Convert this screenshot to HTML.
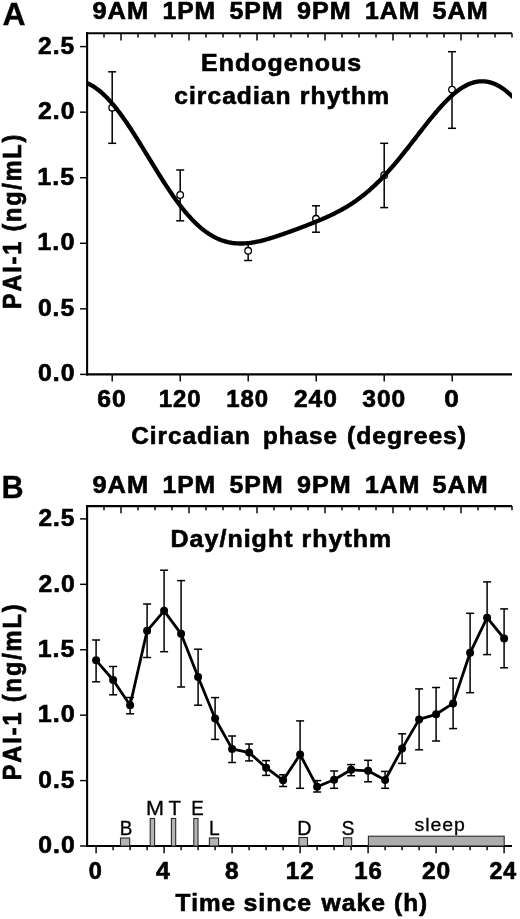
<!DOCTYPE html>
<html><head><meta charset="utf-8"><title>PAI-1 rhythm</title>
<style>
html,body{margin:0;padding:0;background:#fff;}
body{width:520px;height:919px;overflow:hidden;}
svg{display:block;font-family:"Liberation Sans",Arial,Helvetica,sans-serif;fill:#000;font-kerning:none;}
</style></head><body>
<svg width="520" height="919" viewBox="0 0 520 919">
<rect width="520" height="919" fill="#fff"/>
<line x1="86.05" y1="33.25" x2="512.00" y2="33.25" stroke="#000" stroke-width="2.1"/>
<line x1="87.10" y1="32.20" x2="87.10" y2="375.45" stroke="#000" stroke-width="2.1"/>
<line x1="86.05" y1="374.40" x2="512.00" y2="374.40" stroke="#000" stroke-width="2.1"/>
<line x1="87.00" y1="33.25" x2="87.00" y2="37.45" stroke="#000" stroke-width="1.45"/>
<line x1="104.00" y1="33.25" x2="104.00" y2="37.45" stroke="#000" stroke-width="1.45"/>
<line x1="121.00" y1="33.25" x2="121.00" y2="40.45" stroke="#000" stroke-width="1.45"/>
<line x1="138.00" y1="33.25" x2="138.00" y2="37.45" stroke="#000" stroke-width="1.45"/>
<line x1="155.00" y1="33.25" x2="155.00" y2="37.45" stroke="#000" stroke-width="1.45"/>
<line x1="172.00" y1="33.25" x2="172.00" y2="37.45" stroke="#000" stroke-width="1.45"/>
<line x1="189.00" y1="33.25" x2="189.00" y2="40.45" stroke="#000" stroke-width="1.45"/>
<line x1="206.00" y1="33.25" x2="206.00" y2="37.45" stroke="#000" stroke-width="1.45"/>
<line x1="223.00" y1="33.25" x2="223.00" y2="37.45" stroke="#000" stroke-width="1.45"/>
<line x1="240.00" y1="33.25" x2="240.00" y2="37.45" stroke="#000" stroke-width="1.45"/>
<line x1="257.00" y1="33.25" x2="257.00" y2="40.45" stroke="#000" stroke-width="1.45"/>
<line x1="274.00" y1="33.25" x2="274.00" y2="37.45" stroke="#000" stroke-width="1.45"/>
<line x1="291.00" y1="33.25" x2="291.00" y2="37.45" stroke="#000" stroke-width="1.45"/>
<line x1="308.00" y1="33.25" x2="308.00" y2="37.45" stroke="#000" stroke-width="1.45"/>
<line x1="325.00" y1="33.25" x2="325.00" y2="40.45" stroke="#000" stroke-width="1.45"/>
<line x1="342.00" y1="33.25" x2="342.00" y2="37.45" stroke="#000" stroke-width="1.45"/>
<line x1="359.00" y1="33.25" x2="359.00" y2="37.45" stroke="#000" stroke-width="1.45"/>
<line x1="376.00" y1="33.25" x2="376.00" y2="37.45" stroke="#000" stroke-width="1.45"/>
<line x1="393.00" y1="33.25" x2="393.00" y2="40.45" stroke="#000" stroke-width="1.45"/>
<line x1="410.00" y1="33.25" x2="410.00" y2="37.45" stroke="#000" stroke-width="1.45"/>
<line x1="427.00" y1="33.25" x2="427.00" y2="37.45" stroke="#000" stroke-width="1.45"/>
<line x1="444.00" y1="33.25" x2="444.00" y2="37.45" stroke="#000" stroke-width="1.45"/>
<line x1="461.00" y1="33.25" x2="461.00" y2="40.45" stroke="#000" stroke-width="1.45"/>
<line x1="478.00" y1="33.25" x2="478.00" y2="37.45" stroke="#000" stroke-width="1.45"/>
<line x1="495.00" y1="33.25" x2="495.00" y2="37.45" stroke="#000" stroke-width="1.45"/>
<line x1="512.00" y1="33.25" x2="512.00" y2="37.45" stroke="#000" stroke-width="1.45"/>
<line x1="80.10" y1="374.40" x2="87.10" y2="374.40" stroke="#000" stroke-width="1.45"/>
<line x1="80.10" y1="308.84" x2="87.10" y2="308.84" stroke="#000" stroke-width="1.45"/>
<line x1="80.10" y1="243.28" x2="87.10" y2="243.28" stroke="#000" stroke-width="1.45"/>
<line x1="80.10" y1="177.72" x2="87.10" y2="177.72" stroke="#000" stroke-width="1.45"/>
<line x1="80.10" y1="112.16" x2="87.10" y2="112.16" stroke="#000" stroke-width="1.45"/>
<line x1="80.10" y1="46.60" x2="87.10" y2="46.60" stroke="#000" stroke-width="1.45"/>
<text transform="translate(92.38,19.20) scale(1.0460,1)" font-size="24.3" font-weight="bold" letter-spacing="1.0" stroke="#000" stroke-width="0.65">9AM</text>
<text transform="translate(162.44,19.20) scale(1.0136,1)" font-size="24.3" font-weight="bold" letter-spacing="1.0" stroke="#000" stroke-width="0.65">1PM</text>
<text transform="translate(229.50,19.20) scale(1.0223,1)" font-size="24.3" font-weight="bold" letter-spacing="1.0" stroke="#000" stroke-width="0.65">5PM</text>
<text transform="translate(296.89,19.20) scale(1.0344,1)" font-size="24.3" font-weight="bold" letter-spacing="1.0" stroke="#000" stroke-width="0.65">9PM</text>
<text transform="translate(364.93,19.20) scale(1.0219,1)" font-size="24.3" font-weight="bold" letter-spacing="1.0" stroke="#000" stroke-width="0.65">1AM</text>
<text transform="translate(432.49,19.20) scale(1.0351,1)" font-size="24.3" font-weight="bold" letter-spacing="1.0" stroke="#000" stroke-width="0.65">5AM</text>
<text transform="translate(37.90,381.40) scale(1.0222,1)" font-size="24.3" font-weight="bold" letter-spacing="1.0" stroke="#000" stroke-width="0.65">0.0</text>
<text transform="translate(37.90,315.84) scale(1.0131,1)" font-size="24.3" font-weight="bold" letter-spacing="1.0" stroke="#000" stroke-width="0.65">0.5</text>
<text transform="translate(37.25,250.28) scale(1.0408,1)" font-size="24.3" font-weight="bold" letter-spacing="1.0" stroke="#000" stroke-width="0.65">1.0</text>
<text transform="translate(37.26,184.72) scale(1.0314,1)" font-size="24.3" font-weight="bold" letter-spacing="1.0" stroke="#000" stroke-width="0.65">1.5</text>
<text transform="translate(38.00,119.16) scale(1.0191,1)" font-size="24.3" font-weight="bold" letter-spacing="1.0" stroke="#000" stroke-width="0.65">2.0</text>
<text transform="translate(38.01,53.60) scale(1.0101,1)" font-size="24.3" font-weight="bold" letter-spacing="1.0" stroke="#000" stroke-width="0.65">2.5</text>
<line x1="112.20" y1="374.40" x2="112.20" y2="381.60" stroke="#000" stroke-width="1.45"/>
<text transform="translate(97.30,407.00) scale(1.0167,1)" font-size="24.3" font-weight="bold" letter-spacing="1.0" stroke="#000" stroke-width="0.65">60</text>
<line x1="180.20" y1="374.40" x2="180.20" y2="381.60" stroke="#000" stroke-width="1.45"/>
<text transform="translate(158.73,407.00) scale(0.9869,1)" font-size="24.3" font-weight="bold" letter-spacing="1.0" stroke="#000" stroke-width="0.65">120</text>
<line x1="248.20" y1="374.40" x2="248.20" y2="381.60" stroke="#000" stroke-width="1.45"/>
<text transform="translate(226.23,407.00) scale(0.9869,1)" font-size="24.3" font-weight="bold" letter-spacing="1.0" stroke="#000" stroke-width="0.65">180</text>
<line x1="316.20" y1="374.40" x2="316.20" y2="381.60" stroke="#000" stroke-width="1.45"/>
<text transform="translate(293.91,407.00) scale(1.0127,1)" font-size="24.3" font-weight="bold" letter-spacing="1.0" stroke="#000" stroke-width="0.65">240</text>
<line x1="384.20" y1="374.40" x2="384.20" y2="381.60" stroke="#000" stroke-width="1.45"/>
<text transform="translate(362.22,407.00) scale(1.0113,1)" font-size="24.3" font-weight="bold" letter-spacing="1.0" stroke="#000" stroke-width="0.65">300</text>
<line x1="452.20" y1="374.40" x2="452.20" y2="381.60" stroke="#000" stroke-width="1.45"/>
<text transform="translate(444.25,407.00) scale(1.0774,1)" font-size="24.3" font-weight="bold" letter-spacing="1.0" stroke="#000" stroke-width="0.65">0</text>
<text transform="translate(131.21,444.00) scale(1.0005,1)" font-size="24.3" font-weight="bold" letter-spacing="1.0" stroke="#000" stroke-width="0.65">Circadian</text>
<text transform="translate(263.12,444.00) scale(0.9938,1)" font-size="24.3" font-weight="bold" letter-spacing="1.0" stroke="#000" stroke-width="0.65">phase</text>
<text transform="translate(347.00,444.00) scale(1.0141,1)" font-size="24.3" font-weight="bold" letter-spacing="1.0" stroke="#000" stroke-width="0.65">(degrees)</text>
<text transform="translate(21.10,308.93) rotate(-90) scale(0.9642,1.08)" font-size="24.3" font-weight="bold" letter-spacing="1.9" stroke="#000" stroke-width="0.65">PAI-1 (ng/mL)</text>
<text transform="translate(201.07,70.70) scale(1.0258,1)" font-size="24.3" font-weight="bold" letter-spacing="1.0" stroke="#000" stroke-width="0.65">Endogenous</text>
<text transform="translate(174.30,103.70) scale(1.0134,1)" font-size="24.3" font-weight="bold" letter-spacing="1.0" stroke="#000" stroke-width="0.65">circadian</text>
<text transform="translate(299.82,103.70) scale(1.0239,1)" font-size="24.3" font-weight="bold" letter-spacing="1.0" stroke="#000" stroke-width="0.65">rhythm</text>
<text transform="translate(2.41,24.50) scale(1.0146,1)" font-size="31.5" font-weight="bold" stroke="#000" stroke-width="0.3">A</text>
<clipPath id="ca"><rect x="87.1" y="30" width="424.9" height="350"/></clipPath>
<line x1="112.20" y1="71.80" x2="112.20" y2="143.30" stroke="#000" stroke-width="1.5"/>
<line x1="108.20" y1="71.80" x2="116.20" y2="71.80" stroke="#000" stroke-width="1.5"/>
<line x1="108.20" y1="143.30" x2="116.20" y2="143.30" stroke="#000" stroke-width="1.5"/>
<circle cx="112.2" cy="107.7" r="3.3" fill="#fff" stroke="#000" stroke-width="1.3"/>
<line x1="180.20" y1="170.00" x2="180.20" y2="220.80" stroke="#000" stroke-width="1.5"/>
<line x1="176.20" y1="170.00" x2="184.20" y2="170.00" stroke="#000" stroke-width="1.5"/>
<line x1="176.20" y1="220.80" x2="184.20" y2="220.80" stroke="#000" stroke-width="1.5"/>
<circle cx="180.2" cy="195" r="3.3" fill="#fff" stroke="#000" stroke-width="1.3"/>
<line x1="248.15" y1="243.00" x2="248.15" y2="260.50" stroke="#000" stroke-width="1.5"/>
<line x1="244.15" y1="243.00" x2="252.15" y2="243.00" stroke="#000" stroke-width="1.5"/>
<line x1="244.15" y1="260.50" x2="252.15" y2="260.50" stroke="#000" stroke-width="1.5"/>
<circle cx="248.15" cy="250.8" r="3.3" fill="#fff" stroke="#000" stroke-width="1.3"/>
<line x1="316.00" y1="205.80" x2="316.00" y2="232.20" stroke="#000" stroke-width="1.5"/>
<line x1="312.00" y1="205.80" x2="320.00" y2="205.80" stroke="#000" stroke-width="1.5"/>
<line x1="312.00" y1="232.20" x2="320.00" y2="232.20" stroke="#000" stroke-width="1.5"/>
<circle cx="316" cy="218.8" r="3.3" fill="#fff" stroke="#000" stroke-width="1.3"/>
<line x1="384.20" y1="143.30" x2="384.20" y2="207.60" stroke="#000" stroke-width="1.5"/>
<line x1="380.20" y1="143.30" x2="388.20" y2="143.30" stroke="#000" stroke-width="1.5"/>
<line x1="380.20" y1="207.60" x2="388.20" y2="207.60" stroke="#000" stroke-width="1.5"/>
<circle cx="384.2" cy="175.2" r="3.3" fill="#fff" stroke="#000" stroke-width="1.3"/>
<line x1="452.00" y1="51.70" x2="452.00" y2="128.30" stroke="#000" stroke-width="1.5"/>
<line x1="448.00" y1="51.70" x2="456.00" y2="51.70" stroke="#000" stroke-width="1.5"/>
<line x1="448.00" y1="128.30" x2="456.00" y2="128.30" stroke="#000" stroke-width="1.5"/>
<circle cx="452" cy="89.6" r="3.3" fill="#fff" stroke="#000" stroke-width="1.3"/>
<path d="M86.0,82.77 L87.0,83.16 L88.0,83.59 L89.0,84.05 L90.0,84.54 L91.0,85.07 L92.0,85.63 L93.0,86.22 L94.0,86.84 L95.0,87.50 L96.0,88.19 L97.0,88.91 L98.0,89.66 L99.0,90.45 L100.0,91.26 L101.0,92.11 L102.0,92.98 L103.0,93.89 L104.0,94.82 L105.0,95.79 L106.0,96.78 L107.0,97.80 L108.0,98.85 L109.0,99.92 L110.0,101.02 L111.0,102.15 L112.0,103.31 L113.0,104.49 L114.0,105.69 L115.0,106.92 L116.0,108.17 L117.0,109.44 L118.0,110.74 L119.0,112.05 L120.0,113.39 L121.0,114.75 L122.0,116.13 L123.0,117.52 L124.0,118.94 L125.0,120.37 L126.0,121.82 L127.0,123.29 L128.0,124.77 L129.0,126.27 L130.0,127.78 L131.0,129.30 L132.0,130.84 L133.0,132.39 L134.0,133.95 L135.0,135.52 L136.0,137.10 L137.0,138.69 L138.0,140.29 L139.0,141.89 L140.0,143.50 L141.0,145.12 L142.0,146.75 L143.0,148.37 L144.0,150.00 L145.0,151.64 L146.0,153.28 L147.0,154.91 L148.0,156.55 L149.0,158.19 L150.0,159.83 L151.0,161.47 L152.0,163.10 L153.0,164.73 L154.0,166.36 L155.0,167.99 L156.0,169.60 L157.0,171.22 L158.0,172.82 L159.0,174.42 L160.0,176.01 L161.0,177.60 L162.0,179.17 L163.0,180.74 L164.0,182.29 L165.0,183.83 L166.0,185.37 L167.0,186.89 L168.0,188.39 L169.0,189.89 L170.0,191.37 L171.0,192.83 L172.0,194.28 L173.0,195.72 L174.0,197.14 L175.0,198.54 L176.0,199.92 L177.0,201.29 L178.0,202.64 L179.0,203.97 L180.0,205.29 L181.0,206.58 L182.0,207.85 L183.0,209.11 L184.0,210.34 L185.0,211.56 L186.0,212.75 L187.0,213.92 L188.0,215.07 L189.0,216.20 L190.0,217.31 L191.0,218.39 L192.0,219.45 L193.0,220.49 L194.0,221.51 L195.0,222.50 L196.0,223.47 L197.0,224.42 L198.0,225.34 L199.0,226.24 L200.0,227.11 L201.0,227.97 L202.0,228.79 L203.0,229.60 L204.0,230.38 L205.0,231.14 L206.0,231.87 L207.0,232.58 L208.0,233.26 L209.0,233.92 L210.0,234.56 L211.0,235.17 L212.0,235.76 L213.0,236.33 L214.0,236.87 L215.0,237.39 L216.0,237.89 L217.0,238.37 L218.0,238.82 L219.0,239.25 L220.0,239.65 L221.0,240.04 L222.0,240.40 L223.0,240.74 L224.0,241.06 L225.0,241.36 L226.0,241.64 L227.0,241.90 L228.0,242.14 L229.0,242.35 L230.0,242.55 L231.0,242.73 L232.0,242.89 L233.0,243.03 L234.0,243.15 L235.0,243.26 L236.0,243.34 L237.0,243.41 L238.0,243.46 L239.0,243.50 L240.0,243.52 L241.0,243.52 L242.0,243.51 L243.0,243.48 L244.0,243.44 L245.0,243.38 L246.0,243.31 L247.0,243.23 L248.0,243.13 L249.0,243.02 L250.0,242.89 L251.0,242.76 L252.0,242.61 L253.0,242.45 L254.0,242.28 L255.0,242.10 L256.0,241.91 L257.0,241.71 L258.0,241.50 L259.0,241.28 L260.0,241.06 L261.0,240.82 L262.0,240.57 L263.0,240.32 L264.0,240.06 L265.0,239.80 L266.0,239.52 L267.0,239.24 L268.0,238.95 L269.0,238.66 L270.0,238.37 L271.0,238.06 L272.0,237.75 L273.0,237.44 L274.0,237.12 L275.0,236.80 L276.0,236.48 L277.0,236.15 L278.0,235.81 L279.0,235.48 L280.0,235.14 L281.0,234.80 L282.0,234.45 L283.0,234.10 L284.0,233.75 L285.0,233.40 L286.0,233.05 L287.0,232.69 L288.0,232.33 L289.0,231.97 L290.0,231.61 L291.0,231.25 L292.0,230.89 L293.0,230.52 L294.0,230.15 L295.0,229.78 L296.0,229.41 L297.0,229.04 L298.0,228.67 L299.0,228.30 L300.0,227.92 L301.0,227.55 L302.0,227.17 L303.0,226.79 L304.0,226.41 L305.0,226.03 L306.0,225.64 L307.0,225.26 L308.0,224.87 L309.0,224.48 L310.0,224.09 L311.0,223.70 L312.0,223.30 L313.0,222.91 L314.0,222.51 L315.0,222.10 L316.0,221.70 L317.0,221.29 L318.0,220.88 L319.0,220.46 L320.0,220.04 L321.0,219.62 L322.0,219.20 L323.0,218.77 L324.0,218.33 L325.0,217.89 L326.0,217.45 L327.0,217.00 L328.0,216.54 L329.0,216.08 L330.0,215.62 L331.0,215.15 L332.0,214.67 L333.0,214.19 L334.0,213.70 L335.0,213.20 L336.0,212.69 L337.0,212.18 L338.0,211.66 L339.0,211.13 L340.0,210.60 L341.0,210.05 L342.0,209.50 L343.0,208.93 L344.0,208.36 L345.0,207.78 L346.0,207.19 L347.0,206.59 L348.0,205.98 L349.0,205.36 L350.0,204.73 L351.0,204.09 L352.0,203.44 L353.0,202.77 L354.0,202.10 L355.0,201.41 L356.0,200.71 L357.0,200.00 L358.0,199.28 L359.0,198.55 L360.0,197.80 L361.0,197.04 L362.0,196.27 L363.0,195.48 L364.0,194.69 L365.0,193.88 L366.0,193.06 L367.0,192.22 L368.0,191.37 L369.0,190.51 L370.0,189.63 L371.0,188.75 L372.0,187.85 L373.0,186.93 L374.0,186.00 L375.0,185.06 L376.0,184.11 L377.0,183.14 L378.0,182.16 L379.0,181.17 L380.0,180.16 L381.0,179.15 L382.0,178.11 L383.0,177.07 L384.0,176.02 L385.0,174.95 L386.0,173.87 L387.0,172.78 L388.0,171.67 L389.0,170.56 L390.0,169.43 L391.0,168.29 L392.0,167.15 L393.0,165.99 L394.0,164.82 L395.0,163.64 L396.0,162.46 L397.0,161.26 L398.0,160.05 L399.0,158.84 L400.0,157.62 L401.0,156.39 L402.0,155.15 L403.0,153.91 L404.0,152.65 L405.0,151.40 L406.0,150.14 L407.0,148.87 L408.0,147.60 L409.0,146.32 L410.0,145.04 L411.0,143.76 L412.0,142.47 L413.0,141.18 L414.0,139.89 L415.0,138.60 L416.0,137.31 L417.0,136.01 L418.0,134.72 L419.0,133.43 L420.0,132.14 L421.0,130.86 L422.0,129.57 L423.0,128.29 L424.0,127.01 L425.0,125.74 L426.0,124.48 L427.0,123.21 L428.0,121.96 L429.0,120.71 L430.0,119.47 L431.0,118.24 L432.0,117.02 L433.0,115.81 L434.0,114.61 L435.0,113.42 L436.0,112.24 L437.0,111.07 L438.0,109.92 L439.0,108.78 L440.0,107.65 L441.0,106.54 L442.0,105.44 L443.0,104.36 L444.0,103.30 L445.0,102.25 L446.0,101.22 L447.0,100.21 L448.0,99.22 L449.0,98.25 L450.0,97.30 L451.0,96.37 L452.0,95.47 L453.0,94.58 L454.0,93.72 L455.0,92.88 L456.0,92.06 L457.0,91.27 L458.0,90.50 L459.0,89.76 L460.0,89.05 L461.0,88.38 L462.0,87.75 L463.0,87.14 L464.0,86.56 L465.0,86.01 L466.0,85.48 L467.0,84.99 L468.0,84.53 L469.0,84.09 L470.0,83.68 L471.0,83.31 L472.0,82.97 L473.0,82.65 L474.0,82.37 L475.0,82.12 L476.0,81.91 L477.0,81.72 L478.0,81.57 L479.0,81.45 L480.0,81.36 L481.0,81.31 L482.0,81.29 L483.0,81.30 L484.0,81.35 L485.0,81.43 L486.0,81.55 L487.0,81.69 L488.0,81.88 L489.0,82.09 L490.0,82.34 L491.0,82.63 L492.0,82.95 L493.0,83.30 L494.0,83.68 L495.0,84.10 L496.0,84.56 L497.0,85.04 L498.0,85.56 L499.0,86.12 L500.0,86.70 L501.0,87.32 L502.0,87.97 L503.0,88.66 L504.0,89.37 L505.0,90.12 L506.0,90.90 L507.0,91.71 L508.0,92.55 L509.0,93.43 L510.0,94.33 L511.0,95.26 L512.0,96.22 L513.0,97.21" fill="none" stroke="#000" stroke-width="4.3" stroke-linejoin="round" clip-path="url(#ca)"/>
<line x1="86.05" y1="506.10" x2="512.00" y2="506.10" stroke="#000" stroke-width="2.1"/>
<line x1="87.10" y1="505.05" x2="87.10" y2="847.05" stroke="#000" stroke-width="2.1"/>
<line x1="86.05" y1="846.00" x2="512.00" y2="846.00" stroke="#000" stroke-width="2.1"/>
<line x1="87.00" y1="506.10" x2="87.00" y2="510.30" stroke="#000" stroke-width="1.45"/>
<line x1="104.00" y1="506.10" x2="104.00" y2="510.30" stroke="#000" stroke-width="1.45"/>
<line x1="121.00" y1="506.10" x2="121.00" y2="513.30" stroke="#000" stroke-width="1.45"/>
<line x1="138.00" y1="506.10" x2="138.00" y2="510.30" stroke="#000" stroke-width="1.45"/>
<line x1="155.00" y1="506.10" x2="155.00" y2="510.30" stroke="#000" stroke-width="1.45"/>
<line x1="172.00" y1="506.10" x2="172.00" y2="510.30" stroke="#000" stroke-width="1.45"/>
<line x1="189.00" y1="506.10" x2="189.00" y2="513.30" stroke="#000" stroke-width="1.45"/>
<line x1="206.00" y1="506.10" x2="206.00" y2="510.30" stroke="#000" stroke-width="1.45"/>
<line x1="223.00" y1="506.10" x2="223.00" y2="510.30" stroke="#000" stroke-width="1.45"/>
<line x1="240.00" y1="506.10" x2="240.00" y2="510.30" stroke="#000" stroke-width="1.45"/>
<line x1="257.00" y1="506.10" x2="257.00" y2="513.30" stroke="#000" stroke-width="1.45"/>
<line x1="274.00" y1="506.10" x2="274.00" y2="510.30" stroke="#000" stroke-width="1.45"/>
<line x1="291.00" y1="506.10" x2="291.00" y2="510.30" stroke="#000" stroke-width="1.45"/>
<line x1="308.00" y1="506.10" x2="308.00" y2="510.30" stroke="#000" stroke-width="1.45"/>
<line x1="325.00" y1="506.10" x2="325.00" y2="513.30" stroke="#000" stroke-width="1.45"/>
<line x1="342.00" y1="506.10" x2="342.00" y2="510.30" stroke="#000" stroke-width="1.45"/>
<line x1="359.00" y1="506.10" x2="359.00" y2="510.30" stroke="#000" stroke-width="1.45"/>
<line x1="376.00" y1="506.10" x2="376.00" y2="510.30" stroke="#000" stroke-width="1.45"/>
<line x1="393.00" y1="506.10" x2="393.00" y2="513.30" stroke="#000" stroke-width="1.45"/>
<line x1="410.00" y1="506.10" x2="410.00" y2="510.30" stroke="#000" stroke-width="1.45"/>
<line x1="427.00" y1="506.10" x2="427.00" y2="510.30" stroke="#000" stroke-width="1.45"/>
<line x1="444.00" y1="506.10" x2="444.00" y2="510.30" stroke="#000" stroke-width="1.45"/>
<line x1="461.00" y1="506.10" x2="461.00" y2="513.30" stroke="#000" stroke-width="1.45"/>
<line x1="478.00" y1="506.10" x2="478.00" y2="510.30" stroke="#000" stroke-width="1.45"/>
<line x1="495.00" y1="506.10" x2="495.00" y2="510.30" stroke="#000" stroke-width="1.45"/>
<line x1="512.00" y1="506.10" x2="512.00" y2="510.30" stroke="#000" stroke-width="1.45"/>
<line x1="80.10" y1="846.00" x2="87.10" y2="846.00" stroke="#000" stroke-width="1.45"/>
<line x1="80.10" y1="780.58" x2="87.10" y2="780.58" stroke="#000" stroke-width="1.45"/>
<line x1="80.10" y1="715.16" x2="87.10" y2="715.16" stroke="#000" stroke-width="1.45"/>
<line x1="80.10" y1="649.74" x2="87.10" y2="649.74" stroke="#000" stroke-width="1.45"/>
<line x1="80.10" y1="584.32" x2="87.10" y2="584.32" stroke="#000" stroke-width="1.45"/>
<line x1="80.10" y1="518.90" x2="87.10" y2="518.90" stroke="#000" stroke-width="1.45"/>
<text transform="translate(92.38,492.50) scale(1.0460,1)" font-size="24.3" font-weight="bold" letter-spacing="1.0" stroke="#000" stroke-width="0.65">9AM</text>
<text transform="translate(162.44,492.50) scale(1.0136,1)" font-size="24.3" font-weight="bold" letter-spacing="1.0" stroke="#000" stroke-width="0.65">1PM</text>
<text transform="translate(229.50,492.50) scale(1.0223,1)" font-size="24.3" font-weight="bold" letter-spacing="1.0" stroke="#000" stroke-width="0.65">5PM</text>
<text transform="translate(296.89,492.50) scale(1.0344,1)" font-size="24.3" font-weight="bold" letter-spacing="1.0" stroke="#000" stroke-width="0.65">9PM</text>
<text transform="translate(364.93,492.50) scale(1.0219,1)" font-size="24.3" font-weight="bold" letter-spacing="1.0" stroke="#000" stroke-width="0.65">1AM</text>
<text transform="translate(432.49,492.50) scale(1.0351,1)" font-size="24.3" font-weight="bold" letter-spacing="1.0" stroke="#000" stroke-width="0.65">5AM</text>
<text transform="translate(38.30,853.20) scale(1.0192,1)" font-size="24.3" font-weight="bold" letter-spacing="1.0" stroke="#000" stroke-width="0.65">0.0</text>
<text transform="translate(38.31,787.78) scale(1.0102,1)" font-size="24.3" font-weight="bold" letter-spacing="1.0" stroke="#000" stroke-width="0.65">0.5</text>
<text transform="translate(37.65,722.36) scale(1.0378,1)" font-size="24.3" font-weight="bold" letter-spacing="1.0" stroke="#000" stroke-width="0.65">1.0</text>
<text transform="translate(37.67,656.94) scale(1.0284,1)" font-size="24.3" font-weight="bold" letter-spacing="1.0" stroke="#000" stroke-width="0.65">1.5</text>
<text transform="translate(38.40,591.52) scale(1.0162,1)" font-size="24.3" font-weight="bold" letter-spacing="1.0" stroke="#000" stroke-width="0.65">2.0</text>
<text transform="translate(38.41,526.10) scale(1.0072,1)" font-size="24.3" font-weight="bold" letter-spacing="1.0" stroke="#000" stroke-width="0.65">2.5</text>
<line x1="96.10" y1="846.00" x2="96.10" y2="853.20" stroke="#000" stroke-width="1.45"/>
<line x1="113.10" y1="846.00" x2="113.10" y2="850.20" stroke="#000" stroke-width="1.45"/>
<line x1="130.10" y1="846.00" x2="130.10" y2="850.20" stroke="#000" stroke-width="1.45"/>
<line x1="147.10" y1="846.00" x2="147.10" y2="850.20" stroke="#000" stroke-width="1.45"/>
<line x1="164.10" y1="846.00" x2="164.10" y2="853.20" stroke="#000" stroke-width="1.45"/>
<line x1="181.10" y1="846.00" x2="181.10" y2="850.20" stroke="#000" stroke-width="1.45"/>
<line x1="198.10" y1="846.00" x2="198.10" y2="850.20" stroke="#000" stroke-width="1.45"/>
<line x1="215.10" y1="846.00" x2="215.10" y2="850.20" stroke="#000" stroke-width="1.45"/>
<line x1="232.10" y1="846.00" x2="232.10" y2="853.20" stroke="#000" stroke-width="1.45"/>
<line x1="249.10" y1="846.00" x2="249.10" y2="850.20" stroke="#000" stroke-width="1.45"/>
<line x1="266.10" y1="846.00" x2="266.10" y2="850.20" stroke="#000" stroke-width="1.45"/>
<line x1="283.10" y1="846.00" x2="283.10" y2="850.20" stroke="#000" stroke-width="1.45"/>
<line x1="300.10" y1="846.00" x2="300.10" y2="853.20" stroke="#000" stroke-width="1.45"/>
<line x1="317.10" y1="846.00" x2="317.10" y2="850.20" stroke="#000" stroke-width="1.45"/>
<line x1="334.10" y1="846.00" x2="334.10" y2="850.20" stroke="#000" stroke-width="1.45"/>
<line x1="351.10" y1="846.00" x2="351.10" y2="850.20" stroke="#000" stroke-width="1.45"/>
<line x1="368.10" y1="846.00" x2="368.10" y2="853.20" stroke="#000" stroke-width="1.45"/>
<line x1="385.10" y1="846.00" x2="385.10" y2="850.20" stroke="#000" stroke-width="1.45"/>
<line x1="402.10" y1="846.00" x2="402.10" y2="850.20" stroke="#000" stroke-width="1.45"/>
<line x1="419.10" y1="846.00" x2="419.10" y2="850.20" stroke="#000" stroke-width="1.45"/>
<line x1="436.10" y1="846.00" x2="436.10" y2="853.20" stroke="#000" stroke-width="1.45"/>
<line x1="453.10" y1="846.00" x2="453.10" y2="850.20" stroke="#000" stroke-width="1.45"/>
<line x1="470.10" y1="846.00" x2="470.10" y2="850.20" stroke="#000" stroke-width="1.45"/>
<line x1="487.10" y1="846.00" x2="487.10" y2="850.20" stroke="#000" stroke-width="1.45"/>
<line x1="504.10" y1="846.00" x2="504.10" y2="853.20" stroke="#000" stroke-width="1.45"/>
<text transform="translate(88.84,878.70) scale(0.9700,1)" font-size="24.3" font-weight="bold" letter-spacing="1.0" stroke="#000" stroke-width="0.65">0</text>
<text transform="translate(156.06,878.70) scale(1.0258,1)" font-size="24.3" font-weight="bold" letter-spacing="1.0" stroke="#000" stroke-width="0.65">4</text>
<text transform="translate(224.91,878.70) scale(1.0082,1)" font-size="24.3" font-weight="bold" letter-spacing="1.0" stroke="#000" stroke-width="0.65">8</text>
<text transform="translate(285.71,878.70) scale(1.0017,1)" font-size="24.3" font-weight="bold" letter-spacing="1.0" stroke="#000" stroke-width="0.65">12</text>
<text transform="translate(354.23,878.70) scale(0.9879,1)" font-size="24.3" font-weight="bold" letter-spacing="1.0" stroke="#000" stroke-width="0.65">16</text>
<text transform="translate(421.91,878.70) scale(1.0127,1)" font-size="24.3" font-weight="bold" letter-spacing="1.0" stroke="#000" stroke-width="0.65">20</text>
<text transform="translate(489.45,878.70) scale(0.9546,1)" font-size="24.3" font-weight="bold" letter-spacing="1.0" stroke="#000" stroke-width="0.65">24</text>
<text transform="translate(175.42,910.60) scale(0.9993,1)" font-size="24.3" font-weight="bold" letter-spacing="1.0" stroke="#000" stroke-width="0.65">Time</text>
<text transform="translate(243.50,910.60) scale(1.0233,1)" font-size="24.3" font-weight="bold" letter-spacing="1.0" stroke="#000" stroke-width="0.65">since</text>
<text transform="translate(321.58,910.60) scale(1.0173,1)" font-size="24.3" font-weight="bold" letter-spacing="1.0" stroke="#000" stroke-width="0.65">wake</text>
<text transform="translate(394.01,910.60) scale(1.0046,1)" font-size="24.3" font-weight="bold" letter-spacing="1.0" stroke="#000" stroke-width="0.65">(h)</text>
<text transform="translate(21.10,780.25) rotate(-90) scale(0.9738,1.08)" font-size="24.3" font-weight="bold" letter-spacing="1.9" stroke="#000" stroke-width="0.65">PAI-1 (ng/mL)</text>
<text transform="translate(170.56,547.20) scale(1.0274,1)" font-size="24.3" font-weight="bold" letter-spacing="1.0" stroke="#000" stroke-width="0.65">Day/night</text>
<text transform="translate(301.56,547.20) scale(1.0269,1)" font-size="24.3" font-weight="bold" letter-spacing="1.0" stroke="#000" stroke-width="0.65">rhythm</text>
<text transform="translate(1.56,497.50) scale(0.9739,1)" font-size="31.5" font-weight="bold" stroke="#000" stroke-width="0.3">B</text>
<rect x="120.50" y="838.00" width="9.20" height="8.00" fill="#b4b4b4" stroke="#2a2a2a" stroke-width="1.1"/>
<text transform="translate(119.73,834.70) scale(0.9603,1)" font-size="19.7" stroke="#000" stroke-width="0.3">B</text>
<rect x="150.20" y="818.50" width="4.40" height="27.50" fill="#b4b4b4" stroke="#2a2a2a" stroke-width="1.1"/>
<text transform="translate(146.11,815.00) scale(1.0957,1)" font-size="19.7" stroke="#000" stroke-width="0.3">M</text>
<rect x="171.40" y="818.50" width="4.30" height="27.50" fill="#b4b4b4" stroke="#2a2a2a" stroke-width="1.1"/>
<text transform="translate(168.48,815.00) scale(1.0382,1)" font-size="19.7" stroke="#000" stroke-width="0.3">T</text>
<rect x="193.80" y="818.50" width="4.20" height="27.50" fill="#b4b4b4" stroke="#2a2a2a" stroke-width="1.1"/>
<text transform="translate(191.14,815.00) scale(0.9549,1)" font-size="19.7" stroke="#000" stroke-width="0.3">E</text>
<rect x="209.40" y="838.00" width="9.20" height="8.00" fill="#b4b4b4" stroke="#2a2a2a" stroke-width="1.1"/>
<text transform="translate(209.10,834.70) scale(0.9758,1)" font-size="19.7" stroke="#000" stroke-width="0.3">L</text>
<rect x="298.90" y="837.50" width="8.60" height="8.50" fill="#b4b4b4" stroke="#2a2a2a" stroke-width="1.1"/>
<text transform="translate(297.16,834.60) scale(1.0029,1)" font-size="19.7" stroke="#000" stroke-width="0.3">D</text>
<rect x="343.50" y="837.80" width="8.20" height="8.20" fill="#b4b4b4" stroke="#2a2a2a" stroke-width="1.1"/>
<text transform="translate(341.61,834.80) scale(0.9879,1)" font-size="19.7" stroke="#000" stroke-width="0.3">S</text>
<rect x="368.40" y="836.20" width="135.80" height="9.80" fill="#adadad" stroke="#2a2a2a" stroke-width="1.1"/>
<text transform="translate(414.54,831.00) scale(1.0372,1)" font-size="18.8" letter-spacing="0.9" stroke="#000" stroke-width="0.3">sleep</text>
<line x1="96.10" y1="640.00" x2="96.10" y2="681.80" stroke="#000" stroke-width="1.5"/>
<line x1="92.10" y1="640.00" x2="100.10" y2="640.00" stroke="#000" stroke-width="1.5"/>
<line x1="92.10" y1="681.80" x2="100.10" y2="681.80" stroke="#000" stroke-width="1.5"/>
<line x1="113.10" y1="666.50" x2="113.10" y2="694.80" stroke="#000" stroke-width="1.5"/>
<line x1="109.10" y1="666.50" x2="117.10" y2="666.50" stroke="#000" stroke-width="1.5"/>
<line x1="109.10" y1="694.80" x2="117.10" y2="694.80" stroke="#000" stroke-width="1.5"/>
<line x1="130.10" y1="697.50" x2="130.10" y2="713.80" stroke="#000" stroke-width="1.5"/>
<line x1="126.10" y1="697.50" x2="134.10" y2="697.50" stroke="#000" stroke-width="1.5"/>
<line x1="126.10" y1="713.80" x2="134.10" y2="713.80" stroke="#000" stroke-width="1.5"/>
<line x1="147.10" y1="604.00" x2="147.10" y2="657.50" stroke="#000" stroke-width="1.5"/>
<line x1="143.10" y1="604.00" x2="151.10" y2="604.00" stroke="#000" stroke-width="1.5"/>
<line x1="143.10" y1="657.50" x2="151.10" y2="657.50" stroke="#000" stroke-width="1.5"/>
<line x1="164.10" y1="570.20" x2="164.10" y2="651.70" stroke="#000" stroke-width="1.5"/>
<line x1="160.10" y1="570.20" x2="168.10" y2="570.20" stroke="#000" stroke-width="1.5"/>
<line x1="160.10" y1="651.70" x2="168.10" y2="651.70" stroke="#000" stroke-width="1.5"/>
<line x1="181.10" y1="580.60" x2="181.10" y2="687.00" stroke="#000" stroke-width="1.5"/>
<line x1="177.10" y1="580.60" x2="185.10" y2="580.60" stroke="#000" stroke-width="1.5"/>
<line x1="177.10" y1="687.00" x2="185.10" y2="687.00" stroke="#000" stroke-width="1.5"/>
<line x1="198.10" y1="649.20" x2="198.10" y2="705.20" stroke="#000" stroke-width="1.5"/>
<line x1="194.10" y1="649.20" x2="202.10" y2="649.20" stroke="#000" stroke-width="1.5"/>
<line x1="194.10" y1="705.20" x2="202.10" y2="705.20" stroke="#000" stroke-width="1.5"/>
<line x1="215.10" y1="697.60" x2="215.10" y2="739.40" stroke="#000" stroke-width="1.5"/>
<line x1="211.10" y1="697.60" x2="219.10" y2="697.60" stroke="#000" stroke-width="1.5"/>
<line x1="211.10" y1="739.40" x2="219.10" y2="739.40" stroke="#000" stroke-width="1.5"/>
<line x1="232.10" y1="736.00" x2="232.10" y2="762.50" stroke="#000" stroke-width="1.5"/>
<line x1="228.10" y1="736.00" x2="236.10" y2="736.00" stroke="#000" stroke-width="1.5"/>
<line x1="228.10" y1="762.50" x2="236.10" y2="762.50" stroke="#000" stroke-width="1.5"/>
<line x1="249.10" y1="744.00" x2="249.10" y2="760.90" stroke="#000" stroke-width="1.5"/>
<line x1="245.10" y1="744.00" x2="253.10" y2="744.00" stroke="#000" stroke-width="1.5"/>
<line x1="245.10" y1="760.90" x2="253.10" y2="760.90" stroke="#000" stroke-width="1.5"/>
<line x1="266.10" y1="760.60" x2="266.10" y2="775.40" stroke="#000" stroke-width="1.5"/>
<line x1="262.10" y1="760.60" x2="270.10" y2="760.60" stroke="#000" stroke-width="1.5"/>
<line x1="262.10" y1="775.40" x2="270.10" y2="775.40" stroke="#000" stroke-width="1.5"/>
<line x1="283.10" y1="774.80" x2="283.10" y2="786.50" stroke="#000" stroke-width="1.5"/>
<line x1="279.10" y1="774.80" x2="287.10" y2="774.80" stroke="#000" stroke-width="1.5"/>
<line x1="279.10" y1="786.50" x2="287.10" y2="786.50" stroke="#000" stroke-width="1.5"/>
<line x1="300.10" y1="720.90" x2="300.10" y2="788.30" stroke="#000" stroke-width="1.5"/>
<line x1="296.10" y1="720.90" x2="304.10" y2="720.90" stroke="#000" stroke-width="1.5"/>
<line x1="296.10" y1="788.30" x2="304.10" y2="788.30" stroke="#000" stroke-width="1.5"/>
<line x1="317.10" y1="780.60" x2="317.10" y2="792.00" stroke="#000" stroke-width="1.5"/>
<line x1="313.10" y1="780.60" x2="321.10" y2="780.60" stroke="#000" stroke-width="1.5"/>
<line x1="313.10" y1="792.00" x2="321.10" y2="792.00" stroke="#000" stroke-width="1.5"/>
<line x1="334.10" y1="771.00" x2="334.10" y2="788.30" stroke="#000" stroke-width="1.5"/>
<line x1="330.10" y1="771.00" x2="338.10" y2="771.00" stroke="#000" stroke-width="1.5"/>
<line x1="330.10" y1="788.30" x2="338.10" y2="788.30" stroke="#000" stroke-width="1.5"/>
<line x1="351.10" y1="764.60" x2="351.10" y2="775.70" stroke="#000" stroke-width="1.5"/>
<line x1="347.10" y1="764.60" x2="355.10" y2="764.60" stroke="#000" stroke-width="1.5"/>
<line x1="347.10" y1="775.70" x2="355.10" y2="775.70" stroke="#000" stroke-width="1.5"/>
<line x1="368.10" y1="760.30" x2="368.10" y2="781.80" stroke="#000" stroke-width="1.5"/>
<line x1="364.10" y1="760.30" x2="372.10" y2="760.30" stroke="#000" stroke-width="1.5"/>
<line x1="364.10" y1="781.80" x2="372.10" y2="781.80" stroke="#000" stroke-width="1.5"/>
<line x1="385.10" y1="771.40" x2="385.10" y2="788.30" stroke="#000" stroke-width="1.5"/>
<line x1="381.10" y1="771.40" x2="389.10" y2="771.40" stroke="#000" stroke-width="1.5"/>
<line x1="381.10" y1="788.30" x2="389.10" y2="788.30" stroke="#000" stroke-width="1.5"/>
<line x1="402.10" y1="733.80" x2="402.10" y2="763.40" stroke="#000" stroke-width="1.5"/>
<line x1="398.10" y1="733.80" x2="406.10" y2="733.80" stroke="#000" stroke-width="1.5"/>
<line x1="398.10" y1="763.40" x2="406.10" y2="763.40" stroke="#000" stroke-width="1.5"/>
<line x1="419.10" y1="688.90" x2="419.10" y2="749.80" stroke="#000" stroke-width="1.5"/>
<line x1="415.10" y1="688.90" x2="423.10" y2="688.90" stroke="#000" stroke-width="1.5"/>
<line x1="415.10" y1="749.80" x2="423.10" y2="749.80" stroke="#000" stroke-width="1.5"/>
<line x1="436.10" y1="687.50" x2="436.10" y2="741.00" stroke="#000" stroke-width="1.5"/>
<line x1="432.10" y1="687.50" x2="440.10" y2="687.50" stroke="#000" stroke-width="1.5"/>
<line x1="432.10" y1="741.00" x2="440.10" y2="741.00" stroke="#000" stroke-width="1.5"/>
<line x1="453.10" y1="678.20" x2="453.10" y2="728.60" stroke="#000" stroke-width="1.5"/>
<line x1="449.10" y1="678.20" x2="457.10" y2="678.20" stroke="#000" stroke-width="1.5"/>
<line x1="449.10" y1="728.60" x2="457.10" y2="728.60" stroke="#000" stroke-width="1.5"/>
<line x1="470.10" y1="613.30" x2="470.10" y2="692.70" stroke="#000" stroke-width="1.5"/>
<line x1="466.10" y1="613.30" x2="474.10" y2="613.30" stroke="#000" stroke-width="1.5"/>
<line x1="466.10" y1="692.70" x2="474.10" y2="692.70" stroke="#000" stroke-width="1.5"/>
<line x1="487.10" y1="581.90" x2="487.10" y2="654.60" stroke="#000" stroke-width="1.5"/>
<line x1="483.10" y1="581.90" x2="491.10" y2="581.90" stroke="#000" stroke-width="1.5"/>
<line x1="483.10" y1="654.60" x2="491.10" y2="654.60" stroke="#000" stroke-width="1.5"/>
<line x1="504.10" y1="608.90" x2="504.10" y2="667.80" stroke="#000" stroke-width="1.5"/>
<line x1="500.10" y1="608.90" x2="508.10" y2="608.90" stroke="#000" stroke-width="1.5"/>
<line x1="500.10" y1="667.80" x2="508.10" y2="667.80" stroke="#000" stroke-width="1.5"/>
<path d="M96.1,660.3 L113.1,680.0 L130.1,705.2 L147.1,630.8 L164.1,610.8 L181.1,633.8 L198.1,676.9 L215.1,718.5 L232.1,748.9 L249.1,752.6 L266.1,767.7 L283.1,780.3 L300.1,754.5 L317.1,786.8 L334.1,779.8 L351.1,769.8 L368.1,770.8 L385.1,780.0 L402.1,748.6 L419.1,719.4 L436.1,714.3 L453.1,703.4 L470.1,652.8 L487.1,617.7 L504.1,638.5" fill="none" stroke="#000" stroke-width="2.8" stroke-linejoin="round"/>
<circle cx="96.1" cy="660.3" r="4" fill="#000"/>
<circle cx="113.1" cy="680" r="4" fill="#000"/>
<circle cx="130.1" cy="705.2" r="4" fill="#000"/>
<circle cx="147.1" cy="630.8" r="4" fill="#000"/>
<circle cx="164.1" cy="610.8" r="4" fill="#000"/>
<circle cx="181.1" cy="633.8" r="4" fill="#000"/>
<circle cx="198.1" cy="676.9" r="4" fill="#000"/>
<circle cx="215.1" cy="718.5" r="4" fill="#000"/>
<circle cx="232.1" cy="748.9" r="4" fill="#000"/>
<circle cx="249.1" cy="752.6" r="4" fill="#000"/>
<circle cx="266.1" cy="767.7" r="4" fill="#000"/>
<circle cx="283.1" cy="780.3" r="4" fill="#000"/>
<circle cx="300.1" cy="754.5" r="4" fill="#000"/>
<circle cx="317.1" cy="786.8" r="4" fill="#000"/>
<circle cx="334.1" cy="779.8" r="4" fill="#000"/>
<circle cx="351.1" cy="769.8" r="4" fill="#000"/>
<circle cx="368.1" cy="770.8" r="4" fill="#000"/>
<circle cx="385.1" cy="780" r="4" fill="#000"/>
<circle cx="402.1" cy="748.6" r="4" fill="#000"/>
<circle cx="419.1" cy="719.4" r="4" fill="#000"/>
<circle cx="436.1" cy="714.3" r="4" fill="#000"/>
<circle cx="453.1" cy="703.4" r="4" fill="#000"/>
<circle cx="470.1" cy="652.8" r="4" fill="#000"/>
<circle cx="487.1" cy="617.7" r="4" fill="#000"/>
<circle cx="504.1" cy="638.5" r="4" fill="#000"/>
</svg>
</body></html>
